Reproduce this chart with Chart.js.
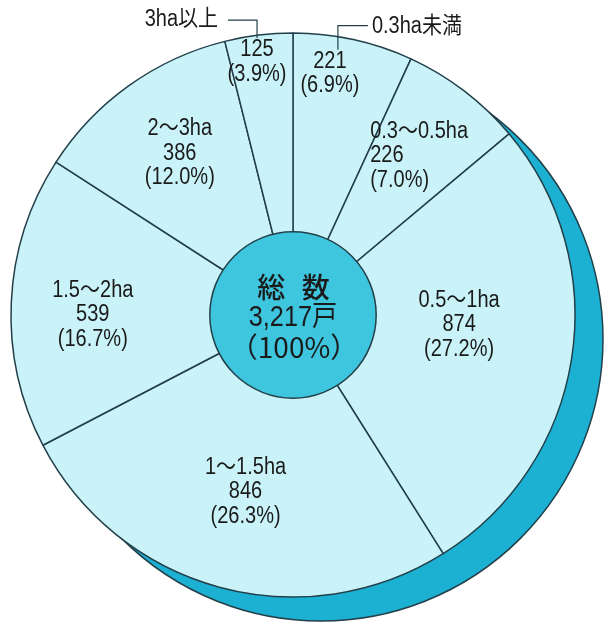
<!DOCTYPE html>
<html>
<head>
<meta charset="utf-8">
<script src="https://cdn.jsdelivr.net/npm/chart.js@4"></script>
<style>
  html, body { margin: 0; padding: 0; background: #fff; }
  #wrap { width: 609px; height: 624px; }
</style>
</head>
<body>
<div id="wrap"><canvas id="farmChart" width="609" height="624"></canvas></div>
<script>
const categories = ["0.3ha未満", "0.3～0.5ha", "0.5～1ha", "1～1.5ha", "1.5～2ha", "2～3ha", "3ha以上"];
const households = [221, 226, 874, 846, 539, 386, 125];
const percents = ["6.9%", "7.0%", "27.2%", "26.3%", "16.7%", "12.0%", "3.9%"];
const totalLabel = ["総 数", "3,217戸", "（100%）"];
// the two thin slices have their names outside the pie
const outsideName = [true, false, false, false, false, false, true];

// where each label block sits: angle (deg, clockwise from top) and fraction of radius
const labelPlace = [[8.7, 0.865], [38.4, 0.72], [93.4, 0.59], [195, 0.65], [270, 0.71], [325, 0.70], [351.9, 0.905]];

const font = '23px "Liberation Sans", Arial, "Noto Sans CJK JP", sans-serif';
const squeeze = 0.87;   // the original type is a condensed gothic
const lineH = 24.5;

// fillText with horizontal condensing
function condensed(c, t, x, y) {
  c.save();
  c.translate(x, y);
  c.scale(squeeze, 1);
  c.fillText(t, 0, 0);
  c.restore();
}
function condensedWidth(c, t) {
  return c.measureText(t).width * squeeze;
}

const decor = {
  id: "decor",
  beforeDatasetsDraw(chart) {
    const arc = chart.getDatasetMeta(0).data[0];
    const c = chart.ctx;
    c.save();
    c.beginPath();
    c.arc(arc.x + 28, arc.y + 24, arc.outerRadius, 0, Math.PI * 2);
    c.fillStyle = "#1cb0d2";
    c.fill();
    c.lineWidth = 1.5;
    c.strokeStyle = "#23404a";
    c.stroke();
    c.restore();
  },
  afterDatasetsDraw(chart) {
    const meta = chart.getDatasetMeta(0);
    const arc0 = meta.data[0];
    const cx = arc0.x, cy = arc0.y, R = arc0.outerRadius;
    const c = chart.ctx;
    c.save();
    // centre disc
    c.beginPath();
    c.arc(cx, cy, R * 0.295, 0, Math.PI * 2);
    c.fillStyle = "#3fc6df";
    c.fill();
    c.lineWidth = 1.5;
    c.strokeStyle = "#23404a";
    c.stroke();

    c.fillStyle = "#1a1a1a";
    c.textAlign = "center";
    c.textBaseline = "middle";
    c.font = '500 28px "Noto Sans CJK JP", sans-serif';
    c.letterSpacing = "5px";
    c.fillText(totalLabel[0], cx + 3, cy - 28);
    c.letterSpacing = "0px";
    c.font = '29px "Liberation Sans", Arial, "Noto Sans CJK JP", sans-serif';
    condensed(c, totalLabel[1], cx, cy + 3);
    c.font = '28px "Noto Sans CJK JP", sans-serif';
    c.fillText(totalLabel[2], cx + 1, cy + 32);

    // slice labels
    c.font = font;
    households.forEach((v, i) => {
      const [deg, f] = labelPlace[i];
      const a = deg * Math.PI / 180;
      let x = cx + Math.sin(a) * R * f;
      const y = cy - Math.cos(a) * R * f;
      const lines = outsideName[i] ? [String(v), "(" + percents[i] + ")"] : [categories[i], String(v), "(" + percents[i] + ")"];
      const top = y - (lines.length - 1) * lineH / 2;
      // the 0.3～0.5ha block is set flush left in the original
      if (i === 1) {
        c.textAlign = "left";
        x -= condensedWidth(c, lines[0]) / 2;
      }
      lines.forEach((t, k) => condensed(c, t, x, top + k * lineH));
      c.textAlign = "center";

      if (outsideName[i]) {
        const yTop = top - 14;
        c.strokeStyle = "#23404a";
        c.lineWidth = 1.2;
        c.beginPath();
        if (x > cx) {
          const lx = x + 8, ly = yTop - 22;
          c.moveTo(lx, yTop + 2);
          c.lineTo(lx, ly);
          c.lineTo(lx + 30, ly);
          c.stroke();
          c.textAlign = "left";
          condensed(c, categories[i], lx + 34, ly + 1);
        } else {
          const ly = yTop - 16;
          c.moveTo(x, yTop + 2);
          c.lineTo(x, ly);
          c.lineTo(x - 29, ly);
          c.stroke();
          c.textAlign = "right";
          condensed(c, categories[i], x - 39, ly);
        }
        c.textAlign = "center";
      }
    });
    c.restore();
  }
};

new Chart(document.getElementById("farmChart"), {
  type: "pie",
  data: {
    labels: categories,
    datasets: [{
      data: households,
      backgroundColor: "#c9f3f8",
      borderColor: "#23404a",
      borderWidth: 1.5,
    }],
  },
  options: {
    responsive: false,
    animation: false,
    radius: 282,
    layout: { padding: { left: 0, right: 23, top: 6, bottom: 0 } },
    plugins: {
      legend: { display: false },
      tooltip: { enabled: false },
    },
  },
  plugins: [decor],
});
</script>
</body>
</html>
